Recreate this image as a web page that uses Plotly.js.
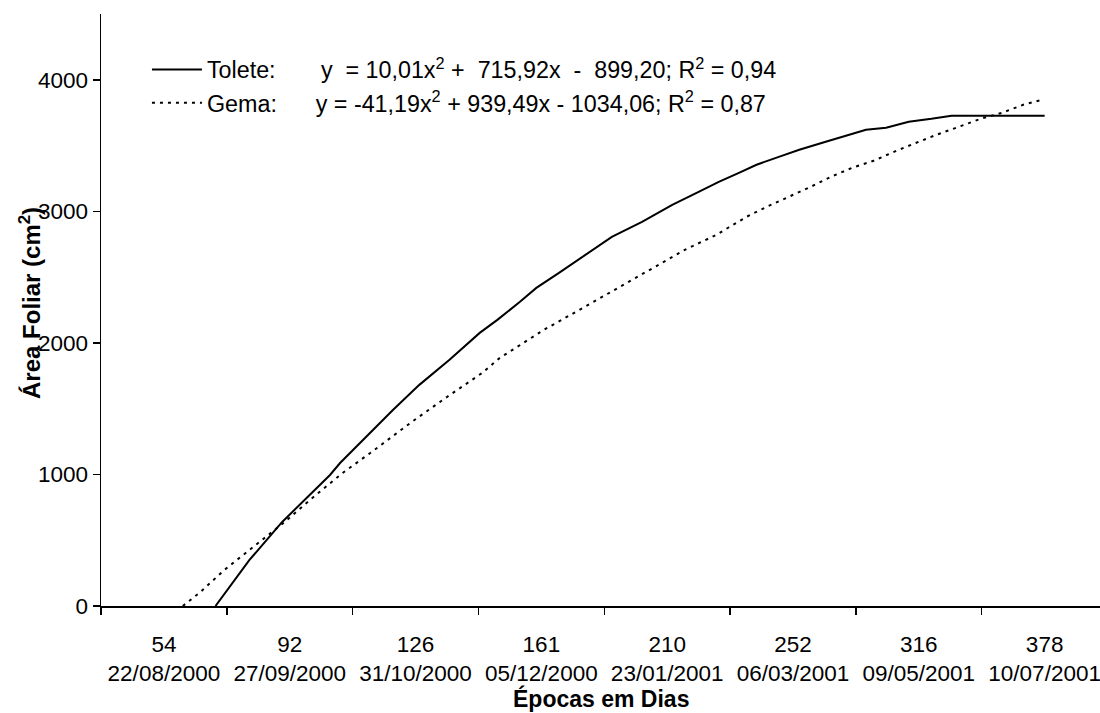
<!DOCTYPE html>
<html>
<head>
<meta charset="utf-8">
<script src="https://cdn.plot.ly/plotly-3.0.1.min.js"></script>
<style>html,body{margin:0;padding:0;background:#fff;}#chart{width:1100px;height:713px;}</style>
</head>
<body>
<div id="chart"></div>
<script>
// Categories (days after planting and dates)
const dias = ['54','92','126','161','210','252','316','378'];
const datas = ['22/08/2000','27/09/2000','31/10/2000','05/12/2000','23/01/2001','06/03/2001','09/05/2001','10/07/2001'];

// Tolete curve (x = category position, 0 = first category)
const toleteX = [0.41,0.68,0.94,1.32,1.40,1.66,1.82,2.03,2.27,2.51,2.65,2.83,2.96,3.14,3.38,3.56,3.80,4.04,4.25,4.41,4.57,4.71,4.91,5.05,5.26,5.58,5.74,5.92,6.10,6.26,7.00];
const toleteY = [0,350,639,996,1087,1338,1490,1681,1871,2076,2175,2312,2418,2532,2692,2806,2920,3049,3148,3224,3293,3354,3422,3468,3529,3620,3635,3681,3703,3726,3726];

// Gema curve
const gemaX = [0.15,0.29,0.48,0.70,0.96,1.16,1.32,1.42,1.64,1.83,1.97,2.25,2.53,2.67,2.81,3.02,3.26,3.50,3.75,3.90,4.14,4.39,4.63,4.79,4.97,5.14,5.30,5.47,5.64,5.82,5.98,6.14,6.32,6.49,6.66,6.83,6.98];
const gemaY = [0,106,274,441,639,806,935,1011,1163,1300,1399,1589,1772,1886,1970,2099,2228,2357,2494,2578,2707,2821,2958,3034,3110,3186,3262,3331,3384,3460,3521,3582,3643,3703,3749,3810,3848];

const nomeTolete = 'Tolete:       y  = 10,01x<sup>2</sup> +  715,92x  -  899,20; R<sup>2</sup> = 0,94';
const nomeGema = 'Gema:      y = -41,19x<sup>2</sup> + 939,49x - 1034,06; R<sup>2</sup> = 0,87';

const yTicks = [0,1000,2000,3000,4000];

const FONT = 'Liberation Sans, Arial, sans-serif';
const catPos = dias.map((d,i)=>i);
const tickText = dias.map((d,i)=>d + '<br>' + datas[i]);

const traces = [
  {x: toleteX, y: toleteY, type:'scatter', mode:'lines', name: nomeTolete,
   line:{color:'#000', width:2, dash:'solid', shape:'linear'}, legendgroup:'a'},
  {x: gemaX, y: gemaY, type:'scatter', mode:'lines', name: nomeGema,
   line:{color:'#000', width:2, dash:'3px,5px', shape:'linear'}, legendgroup:'b'}
];

const layout = {
  width:1100, height:713,
  margin:{l:101, r:0, t:14, b:107},
  paper_bgcolor:'#fff', plot_bgcolor:'#fff',
  font:{family:FONT, size:22, color:'#000'},
  showlegend:true,
  legend:{x:0.046, y:0.943, xanchor:'left', yanchor:'top', bgcolor:'rgba(0,0,0,0)',
          font:{family:FONT, size:23.3, color:'#000'}, traceorder:'grouped', tracegroupgap:0,
          itemwidth:50},
  xaxis:{range:[-0.5, 7.44], tickmode:'array', tickvals:catPos, ticktext:tickText,
         ticks:'', showgrid:false, zeroline:false, showline:true, linecolor:'#000', linewidth:1.5,
         ticklabelstandoff:17, ticklabeloverflow:'allow', tickfont:{family:FONT, size:22.5, color:'#000'},
         minor:{tick0:-0.5, dtick:1, ticks:'outside', ticklen:7, tickwidth:1.5, tickcolor:'#000', showgrid:false},
         fixedrange:true},
  yaxis:{range:[0,4500], tickmode:'array', tickvals:yTicks, ticktext:yTicks.map(String),
         ticks:'outside', ticklen:7, tickwidth:1.5, tickcolor:'#000',
         showgrid:false, zeroline:false, showline:true, linecolor:'#000', linewidth:1.5,
         tickfont:{family:FONT, size:22.5, color:'#000'}, fixedrange:true},
  annotations:[
    {text:'<b>Área Foliar (cm<sup>2</sup>)</b>', xref:'paper', yref:'paper', x:-0.071, y:0.512,
     xanchor:'center', yanchor:'middle', textangle:-90, showarrow:false,
     font:{family:FONT, size:24, color:'#000'}},
    {text:'<b>Épocas em Dias</b>', xref:'paper', yref:'paper', x:0.5, y:-0.157,
     xanchor:'center', yanchor:'middle', showarrow:false,
     font:{family:FONT, size:23, color:'#000'}}
  ]
};

Plotly.newPlot('chart', traces, layout, {displayModeBar:false, staticPlot:true});
</script>
</body>
</html>
